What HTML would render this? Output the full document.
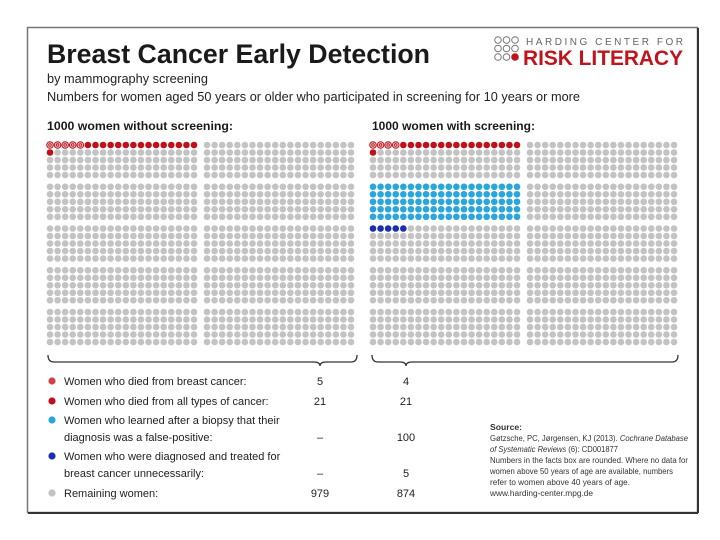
<!DOCTYPE html>
<html><head><meta charset="utf-8"><style>
html,body{margin:0;padding:0;background:#fff;}
svg{display:block;font-family:"Liberation Sans",sans-serif;}
</style></head><body>
<svg id="chart" width="720" height="540" viewBox="0 0 720 540">
<rect x="0" y="0" width="720" height="540" fill="#fff"/>
<rect x="27.5" y="27.5" width="670" height="485" fill="#fff" stroke="#777" stroke-width="1.5"/>
<line x1="28" y1="513" x2="698" y2="513" stroke="#333" stroke-width="2"/>
<line x1="698" y1="28" x2="698" y2="513" stroke="#333" stroke-width="2"/>
<text x="47" y="63" font-size="27" font-weight="bold" fill="#1a1a1a" textLength="383" lengthAdjust="spacingAndGlyphs">Breast Cancer Early Detection</text>
<text x="47" y="83" font-size="12.5" fill="#222" textLength="161" lengthAdjust="spacingAndGlyphs">by mammography screening</text>
<text x="47" y="101" font-size="12.5" fill="#222" textLength="533" lengthAdjust="spacingAndGlyphs">Numbers for women aged 50 years or older who participated in screening for 10 years or more</text>
<g>
<g id="logo-dots" fill="none" stroke="#777" stroke-width="1"></g>
<text x="526" y="45" font-size="10" fill="#666" textLength="157" lengthAdjust="spacing">HARDING CENTER FOR</text>
<text x="523" y="65" font-size="21" font-weight="bold" fill="#c0141c" textLength="160" lengthAdjust="spacingAndGlyphs">RISK LITERACY</text>
</g>
<text x="47" y="130" font-size="12" font-weight="bold" fill="#1a1a1a" textLength="186" lengthAdjust="spacingAndGlyphs">1000 women without screening:</text>
<text x="372" y="130" font-size="12" font-weight="bold" fill="#1a1a1a" textLength="163" lengthAdjust="spacingAndGlyphs">1000 women with screening:</text>
<g id="dots"></g>
<g fill="none" stroke="#333" stroke-width="1.3">
<path d="M48 355 Q48 362 54 362 L314 362 Q320 362 320 366 Q320 362 326 362 L351 362 Q357 362 357 355"/>
<path d="M372 355 Q372 362 378 362 L400 362 Q406 362 406 366 Q406 362 412 362 L672 362 Q678 362 678 355"/>
</g>
<g id="legend" font-size="11" fill="#222"></g>
<g font-size="8.6" fill="#333">
<text x="490" y="430" font-weight="bold">Source:</text>
<text x="490" y="441" textLength="198" lengthAdjust="spacingAndGlyphs">Gøtzsche, PC, Jørgensen, KJ (2013). <tspan font-style="italic">Cochrane Database</tspan></text>
<text x="490" y="452" textLength="128" lengthAdjust="spacingAndGlyphs"><tspan font-style="italic">of Systematic Reviews</tspan> (6): CD001877</text>
<text x="490" y="463" textLength="198" lengthAdjust="spacingAndGlyphs">Numbers in the facts box are rounded. Where no data for</text>
<text x="490" y="474" textLength="183" lengthAdjust="spacingAndGlyphs">women above 50 years of age are available, numbers</text>
<text x="490" y="485" textLength="140" lengthAdjust="spacingAndGlyphs">refer to women above 40 years of age.</text>
<text x="490" y="496" textLength="103" lengthAdjust="spacingAndGlyphs">www.harding-center.mpg.de</text>
</g>
</svg>
<script>
const NS="http://www.w3.org/2000/svg";
const categories=["breast-cancer-death","other-cancer-death","false-positive","overdiagnosis","remaining"];
const withoutScreening=[5,16,0,0,979];
const withScreening=[4,17,100,5,874];
const colors={"breast-cancer-death":"#d0434a","other-cancer-death":"#c0111a","false-positive":"#2aa6de","overdiagnosis":"#1b2db0","remaining":"#c3c3c3"};
const legendLabels=[["Women who died from breast cancer:"],["Women who died from all types of cancer:"],["Women who learned after a biopsy that their","diagnosis was a false-positive:"],["Women who were diagnosed and treated for","breast cancer unnecessarily:"],["Remaining women:"]];
const legendLeft=["5","21","–","–","979"];
const legendRight=["4","21","100","5","874"];
const legendColors=["#c0111a","#c0111a","#2aa6de","#1b2db0","#c3c3c3"];

function el(t,a,p){const e=document.createElementNS(NS,t);for(const k in a)e.setAttribute(k,a[k]);p.appendChild(e);return e;}
const ld=document.getElementById('logo-dots');
for(let r=0;r<3;r++)for(let c=0;c<3;c++){
  const last=(r===2&&c===2);
  const d=el('circle',{cx:498+c*8.5,cy:40+r*8.5,r:3.3},ld);
  if(last){d.setAttribute('fill','#c0141c');d.setAttribute('stroke','#c0141c');}
  
  
}
function xy(x0,blockCol,blockRow,row,col){
  return [x0+blockCol*157+col*7.58, 145+blockRow*41.75+row*7.5];
}
function drawPanel(x0,counts,name){
  const g=el('g',{},document.getElementById('dots'));
  
  
  const seq=[];
  categories.forEach((c,ci)=>{for(let n=0;n<counts[ci];n++)seq.push(c);});
  const grid={};
  const deaths=seq.filter(s=>s==="breast-cancer-death"||s==="other-cancer-death");
  deaths.forEach((s,i)=>{grid["0,0,"+Math.floor(i/20)+","+(i%20)]=s;});
  const fp=seq.filter(s=>s==="false-positive");
  fp.forEach((s,i)=>{const bi=Math.floor(i/100),k=i%100;grid["0,"+(1+bi)+","+Math.floor(k/20)+","+(k%20)]=s;});
  const od=seq.filter(s=>s==="overdiagnosis");
  const odRow=1+Math.ceil(fp.length/100);
  od.forEach((s,i)=>{grid["0,"+odRow+","+Math.floor(i/20)+","+(i%20)]=s;});
  for(let bc=0;bc<2;bc++)for(let br=0;br<5;br++)for(let r=0;r<5;r++)for(let c=0;c<20;c++){
    const cat=grid[bc+","+br+","+r+","+c]||"remaining";
    const [x,y]=xy(x0,bc,br,r,c);
    const d=el('circle',{cx:x.toFixed(2),cy:y.toFixed(2),r:3.3,fill:colors[cat]},g);
    
    
    if(cat==="breast-cancer-death"){
      d.setAttribute('fill','#e8c0c2');d.setAttribute('stroke','#c0111a');d.setAttribute('stroke-width','1');
      const m=el('circle',{cx:x.toFixed(2),cy:y.toFixed(2),r:1.3,fill:'none',stroke:'#c0111a','stroke-width':0.8},g);
      
      
    }
  }
}
drawPanel(50,withoutScreening,'left-dot-panel');
drawPanel(373,withScreening,'right-dot-panel');
const lg=document.getElementById('legend');
const rowY=[[385],[405],[424,441],[460,477],[497]];
legendLabels.forEach((lines,i)=>{
  const g=el('g',{},lg);
  
  
  const dy=rowY[i][0]-4;
  const c=el('circle',{cx:52,cy:dy,r:3.6,fill:legendColors[i]},g);
  if(i===0){c.setAttribute('fill','#d0434a');}
  lines.forEach((t,j)=>{const tx=el('text',{x:64,y:rowY[i][j]},g);tx.textContent=t;});
  const yv=rowY[i][lines.length-1];
  const a=el('text',{x:320,y:yv,'text-anchor':'middle'},g);a.textContent=legendLeft[i];
  const b=el('text',{x:406,y:yv,'text-anchor':'middle'},g);b.textContent=legendRight[i];
});
</script>
</body></html>
